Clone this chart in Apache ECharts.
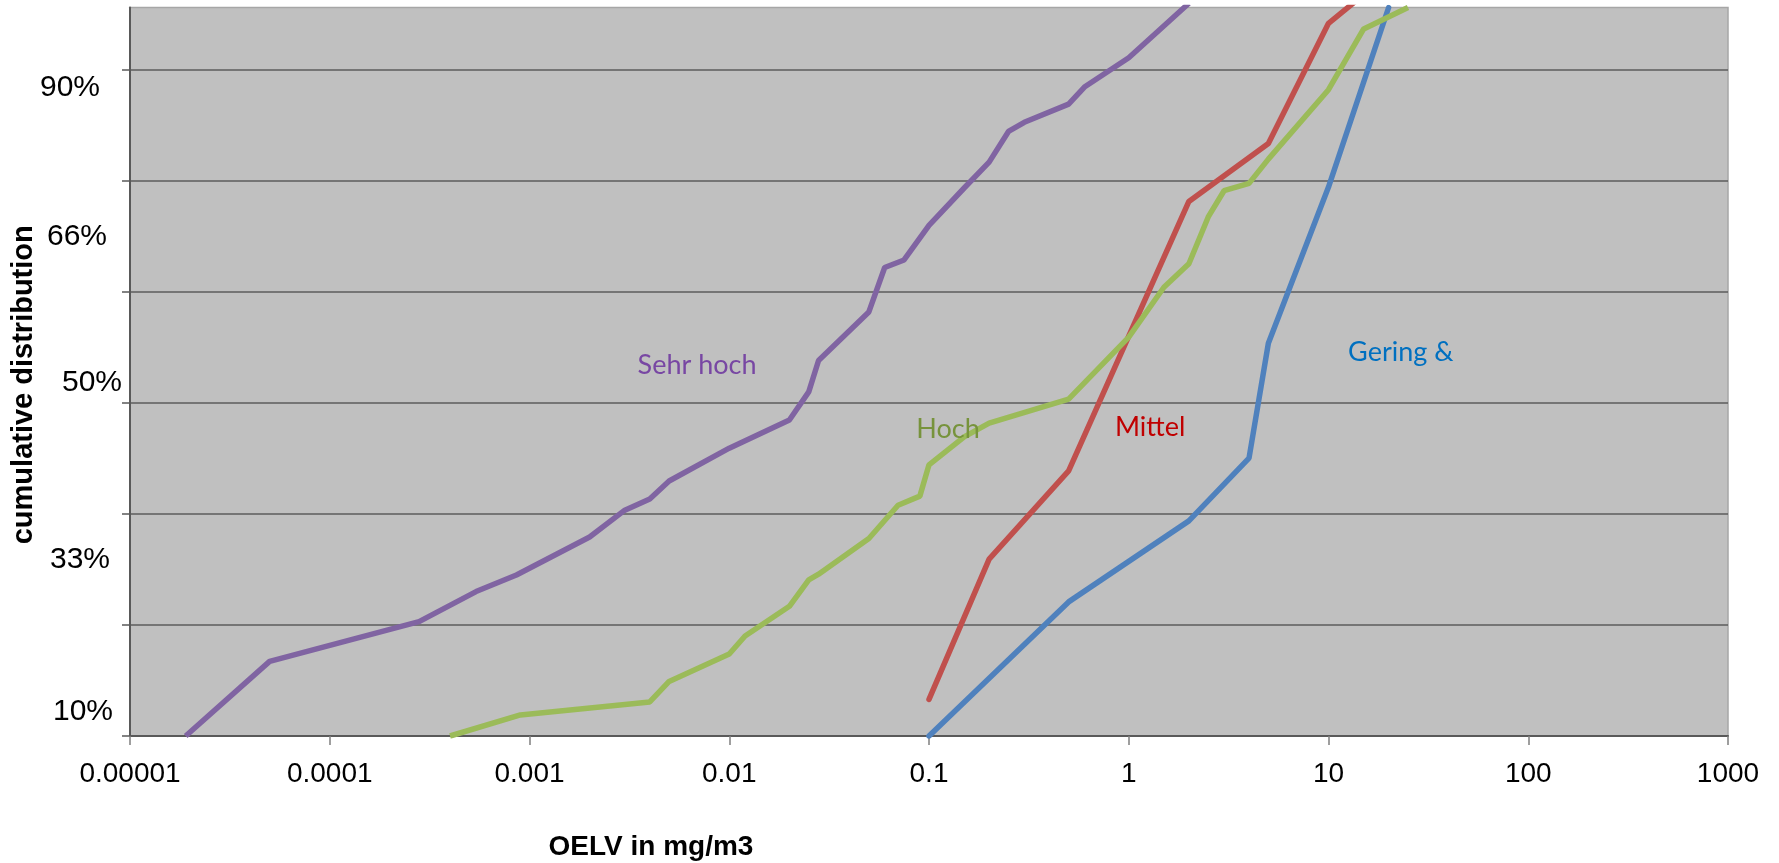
<!DOCTYPE html>
<html lang="en">
<head>
    <meta charset="utf-8" />
    <title>OELV cumulative distribution</title>
    <script src="https://cdn.jsdelivr.net/npm/echarts@6/dist/echarts.min.js"></script>
    <style>
        html, body { margin: 0; padding: 0; background: #fff; }
    </style>
</head>
<body>
    <div id="main" style="width:1779px;height:863px;"></div>
    <script>
        // OELV values in mg/m3 (x) and cumulative distribution in % (y)
        var sehrHochX = [0.000019, 0.00005, 0.00028, 0.00054, 0.00086, 0.002, 0.003, 0.004, 0.005, 0.01, 0.02, 0.025, 0.028, 0.05, 0.06, 0.075, 0.1, 0.15, 0.2, 0.25, 0.3, 0.5, 0.6, 1, 2];
        var sehrHochY = [10, 16.0, 20.0, 23.4, 25.4, 30.3, 34.0, 35.6, 38.2, 43.1, 47.4, 51.7, 56.5, 63.7, 69.9, 70.9, 75.3, 79.6, 82.3, 85.2, 86.0, 87.5, 88.8, 90.8, 93.8];

        var hochX = [0.0004, 0.0009, 0.004, 0.005, 0.01, 0.012, 0.02, 0.025, 0.028, 0.05, 0.07, 0.09, 0.1, 0.15, 0.2, 0.5, 1, 1.5, 2, 2.5, 3, 4, 5, 10, 15, 25];
        var hochY = [10, 11.5, 12.5, 14.2, 16.7, 18.5, 21.7, 24.8, 25.5, 30.1, 34.7, 36.0, 40.6, 44.8, 46.9, 50.6, 60.0, 67.2, 70.4, 76.3, 79.3, 80.1, 82.6, 88.6, 92.5, 93.6];

        var mittelX = [0.1, 0.2, 0.5, 2, 5, 10, 15];
        var mittelY = [12.7, 27.4, 39.7, 78.1, 84.1, 92.8, 94.2];

        var geringX = [0.1, 0.5, 2, 4, 5, 10, 20];
        var geringY = [10, 22.2, 32.5, 41.6, 59.1, 79.7, 93.6];

        var xTickLabels = ['0.00001', '0.0001', '0.001', '0.01', '0.1', '1', '10', '100', '1000'];
        var yTickLabels = ['90%', '66%', '50%', '33%', '10%'];

        // inverse normal cdf (probability scale)
        function probit(p) {
            var a = [-3.969683028665376e+01, 2.209460984245205e+02, -2.759285104469687e+02, 1.383577518672690e+02, -3.066479806614716e+01, 2.506628277459239e+00];
            var b = [-5.447609879822406e+01, 1.615858368580409e+02, -1.556989798598866e+02, 6.680131188771802e+01, -1.328068155288572e+01];
            var c = [-7.784894002430293e-03, -3.223964580411365e-01, -2.400758277161838e+00, -2.549732539343734e+00, 4.374664141464968e+00, 2.938163982698783e+00];
            var d = [7.784695709041462e-03, 3.224671290700398e-01, 2.445134137142996e+00, 3.754408661907416e+00];
            var pl = 0.02425, q, r;
            if (p < pl) {
                q = Math.sqrt(-2 * Math.log(p));
                return (((((c[0] * q + c[1]) * q + c[2]) * q + c[3]) * q + c[4]) * q + c[5]) / ((((d[0] * q + d[1]) * q + d[2]) * q + d[3]) * q + 1);
            }
            if (p > 1 - pl) {
                q = Math.sqrt(-2 * Math.log(1 - p));
                return -(((((c[0] * q + c[1]) * q + c[2]) * q + c[3]) * q + c[4]) * q + c[5]) / ((((d[0] * q + d[1]) * q + d[2]) * q + d[3]) * q + 1);
            }
            q = p - 0.5; r = q * q;
            return (((((a[0] * r + a[1]) * r + a[2]) * r + a[3]) * r + a[4]) * r + a[5]) * q / (((((b[0] * r + b[1]) * r + b[2]) * r + b[3]) * r + b[4]) * r + 1);
        }

        function pairs(xs, ys) {
            return xs.map(function (x, i) { return [x, probit(ys[i] / 100)]; });
        }

        // probit axis: gridlines every third of the 10%..90% span
        var step = probit(0.9) / 3;
        var yMin = -3 * step;
        var yMax = probit(0.936);
        var gridVals = [];
        for (var k = 0; k <= 6; k++) gridVals.push(yMin + k * step);

        // where the percent labels sit (they are offset from the gridlines)
        var yLabelPos = [1.212, 0.639, 0.077, -0.604, -1.189];
        var yLabelShift = [22, 15, 0, 12, 9];
        var rich = {};
        yLabelShift.forEach(function (s, i) {
            rich['p' + i] = { fontSize: 30, fontFamily: 'Liberation Sans, Arial', color: '#000', padding: [0, s, 0, 0] };
        });

        function seriesLabel(name, coord, color) {
            return {
                symbol: 'circle',
                symbolSize: 0,
                silent: true,
                label: {
                    show: true, position: 'inside', formatter: name, offset: [0, 2],
                    fontFamily: 'Lato, sans-serif', fontSize: 27, color: color
                },
                data: [{ coord: coord }]
            };
        }

        var chart = echarts.init(document.getElementById('main'));
        var option = {
            animation: false,
            backgroundColor: '#fff',
            grid: {
                left: 130, right: 51, top: 7.5, bottom: 127,
                outerBoundsMode: 'none',
                show: true, backgroundColor: '#C0C0C0',
                borderColor: '#A6A6A6', borderWidth: 1.5
            },
            xAxis: {
                type: 'log',
                logBase: 10,
                min: 0.00001,
                max: 1000,
                axisLine: { show: true, onZero: false, lineStyle: { color: '#595959', width: 2 } },
                axisTick: { show: true, length: 9, lineStyle: { color: '#7f7f7f', width: 1.5 } },
                splitLine: { show: false },
                axisLabel: {
                    fontSize: 28, fontFamily: 'Liberation Sans, Arial', color: '#000', margin: 24,
                    formatter: function (v) {
                        return xTickLabels[Math.round(Math.log(v) / Math.LN10) + 5];
                    }
                },
                name: 'OELV in mg/m3',
                nameLocation: 'middle',
                nameGap: 97,
                nameTextStyle: {
                    fontSize: 28, fontWeight: 'bold', fontFamily: 'Liberation Sans, Arial', color: '#000',
                    padding: [0, 556, 0, 0]
                }
            },
            yAxis: {
                type: 'value',
                min: yMin,
                max: yMax,
                interval: step,
                axisLine: { show: true, lineStyle: { color: '#595959', width: 2 } },
                axisTick: { show: true, length: 8, customValues: gridVals, lineStyle: { color: '#595959', width: 1.5 } },
                splitLine: { show: true, lineStyle: { color: '#5d5d5d', width: 1.5 } },
                axisLabel: {
                    customValues: yLabelPos,
                    margin: 8,
                    fontSize: 30, fontFamily: 'Liberation Sans, Arial', color: '#000',
                    formatter: function (v) {
                        var best = 0;
                        for (var i = 1; i < yLabelPos.length; i++) {
                            if (Math.abs(yLabelPos[i] - v) < Math.abs(yLabelPos[best] - v)) best = i;
                        }
                        return '{p' + best + '|' + yTickLabels[best] + '}';
                    },
                    rich: rich
                },
                name: 'cumulative distribution',
                nameLocation: 'middle',
                nameMoveOverlap: false,
                nameGap: 92,
                nameTextStyle: {
                    fontSize: 29, fontWeight: 'bold', fontFamily: 'Liberation Sans, Arial', color: '#000',
                    padding: [0, 26, 0, 0]
                }
            },
            series: [
                {
                    name: 'Gering &', type: 'line', symbol: 'none',
                    data: pairs(geringX, geringY),
                    lineStyle: { color: '#4F81BD', width: 5.5, cap: 'round' },
                    markPoint: seriesLabel('Gering &', [23, probit(0.581)], '#0070C0')
                },
                {
                    name: 'Mittel', type: 'line', symbol: 'none',
                    data: pairs(mittelX, mittelY),
                    lineStyle: { color: '#C0504D', width: 5.5, cap: 'round' },
                    markPoint: seriesLabel('Mittel', [1.28, probit(0.466)], '#C00000')
                },
                {
                    name: 'Hoch', type: 'line', symbol: 'none',
                    data: pairs(hochX, hochY),
                    lineStyle: { color: '#9BBB59', width: 5.5 },
                    markPoint: seriesLabel('Hoch', [0.1245, probit(0.462)], '#77933C')
                },
                {
                    name: 'Sehr hoch', type: 'line', symbol: 'none',
                    data: pairs(sehrHochX, sehrHochY),
                    lineStyle: { color: '#8064A2', width: 5.5 },
                    markPoint: seriesLabel('Sehr hoch', [0.0069, probit(0.560)], '#7847A3')
                }
            ]
        };
        chart.setOption(option);
    </script>
</body>
</html>
